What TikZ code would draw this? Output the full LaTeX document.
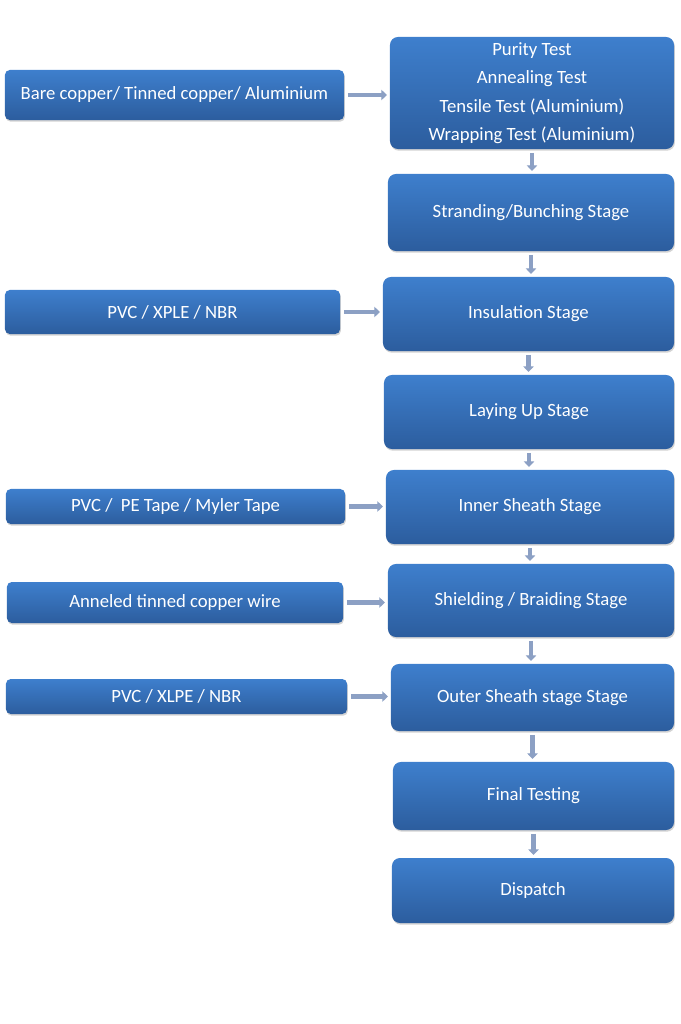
\documentclass[tikz,border=0pt]{standalone}
\usepackage{fontspec}
\setmainfont{Carlito}
\usepackage{tikz}
\usetikzlibrary{arrows.meta, shadows}
\definecolor{boxtop}{RGB}{62,127,205}
\definecolor{boxbot}{RGB}{44,93,158}
\definecolor{arrowgrey}{RGB}{140,160,196}
\tikzstyle{stage} = [rectangle, rounded corners=0.2cm, inner sep=0pt, text centered, align=center, text=white, top color=boxtop, middle color=boxtop, bottom color=boxbot, drop shadow={opacity=0.35, shadow xshift=0.6pt, shadow yshift=-1.2pt}, font=\fontsize{13.3}{20.3}\selectfont]
\tikzstyle{material} = [stage, rounded corners=0.12cm]
\tikzstyle{flow} = [line width=3pt, draw=arrowgrey, -{Triangle[width=7.5pt, length=4pt]}, shorten <=2.5pt, shorten >=2pt]

\begin{document}
\begin{tikzpicture}[x=0.025cm, y=-0.025cm]
\useasboundingbox (0,0) rectangle (680,1024);
% material inputs
\node (bare) [material, minimum width=8.475cm, minimum height=1.25cm] at (174.5,95) {Bare copper/ Tinned copper/ Aluminium};
\node (ins) [material, minimum width=8.375cm, minimum height=1.1cm] at (172.5,312) {PVC / XPLE / NBR};
\node (tape) [material, minimum width=8.475cm, minimum height=0.875cm] at (175.5,506.5) {PVC /\ \ PE Tape / Myler Tape};
\node (wire) [material, minimum width=8.4cm, minimum height=1.025cm] at (175,602.5) {Anneled tinned copper wire};
\node (outer) [material, minimum width=8.525cm, minimum height=0.875cm] at (176.5,696.5) {PVC / XLPE / NBR};
% process stages
\node (tests) [stage, minimum width=7.1cm, minimum height=2.8cm] at (532,93) {Purity Test\\Annealing Test\\Tensile Test (Aluminium)\\Wrapping Test (Aluminium)};
\node (strand) [stage, minimum width=7.15cm, minimum height=1.925cm] at (531,212.5) {Stranding/Bunching Stage};
\node (insul) [stage, minimum width=7.275cm, minimum height=1.85cm] at (528.5,314) {Insulation Stage};
\node (layup) [stage, minimum width=7.25cm, minimum height=1.85cm] at (529,412) {Laying Up Stage};
\node (inner) [stage, minimum width=7.2cm, minimum height=1.85cm] at (530,507) {Inner Sheath Stage};
\node (shield) [stage, minimum width=7.15cm, minimum height=1.825cm] at (531,600.5) {Shielding / Braiding Stage};
\node (sheath) [stage, minimum width=7.075cm, minimum height=1.675cm] at (532.5,697.5) {Outer Sheath stage Stage};
\node (final) [stage, minimum width=7.025cm, minimum height=1.7cm] at (533.5,796) {Final Testing};
\node (dispatch) [stage, minimum width=7.05cm, minimum height=1.625cm] at (533,890.5) {Dispatch};

\draw [flow] (bare.east) -- (bare.east -| tests.west);
\draw [flow] (ins.east) -- (ins.east -| insul.west);
\draw [flow] (tape.east) -- (tape.east -| inner.west);
\draw [flow] (wire.east) -- (wire.east -| shield.west);
\draw [flow] (outer.east) -- (outer.east -| sheath.west);
\draw [flow] (tests.south) -- (tests.south |- strand.north);
\draw [flow] (strand.south) -- (strand.south |- insul.north);
\draw [flow] (insul.south) -- (insul.south |- layup.north);
\draw [flow] (layup.south) -- (layup.south |- inner.north);
\draw [flow] (inner.south) -- (inner.south |- shield.north);
\draw [flow] (shield.south) -- (shield.south |- sheath.north);
\draw [flow] (sheath.south) -- (sheath.south |- final.north);
\draw [flow] (final.south) -- (final.south |- dispatch.north);
\end{tikzpicture}
\end{document}
